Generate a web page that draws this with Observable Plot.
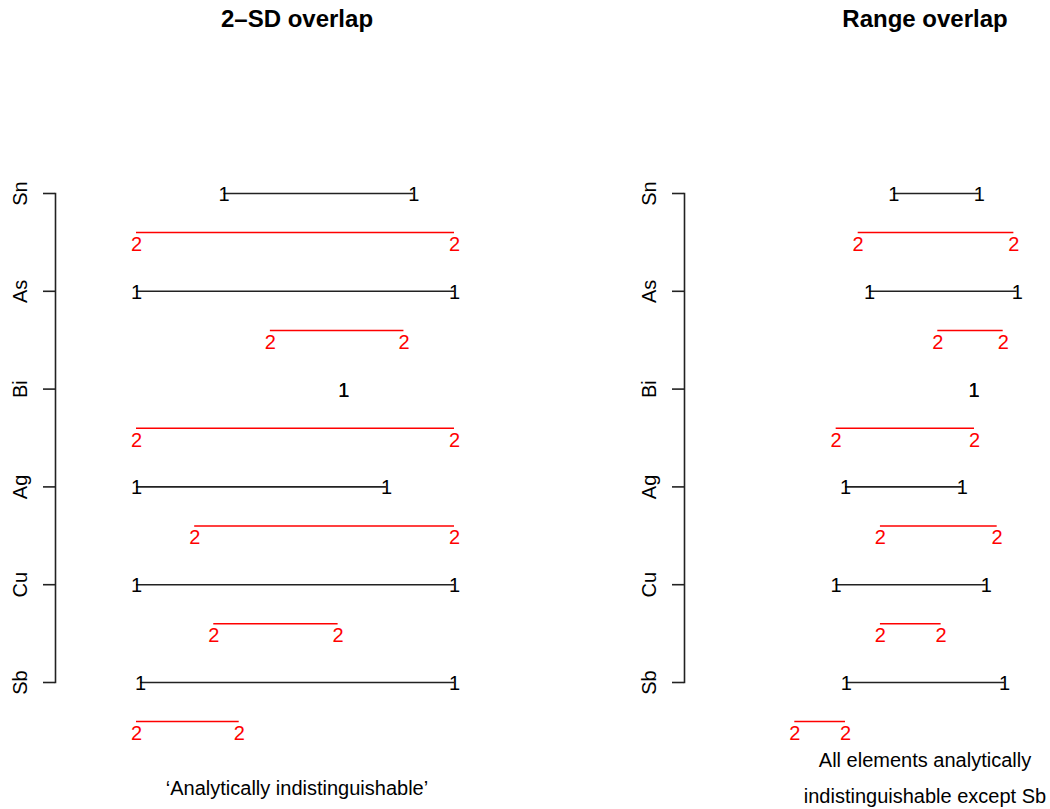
<!DOCTYPE html>
<html><head><meta charset="utf-8">
<script src="https://cdn.jsdelivr.net/npm/d3@7"></script>
<script src="https://cdn.jsdelivr.net/npm/@observablehq/plot@0.6"></script>
<style>
html,body{margin:0;padding:0;background:#fff;}
#chart{position:relative;width:1050px;height:809px;font-family:"Liberation Sans",Arial,Helvetica,sans-serif;color:#000;overflow:hidden;}
.panel{position:absolute;top:0;width:525px;height:809px;}
.panel svg{display:block;}
.lbl{position:absolute;white-space:nowrap;transform:translateX(-50%);line-height:1;}
.title{font-size:24px;font-weight:bold;}
.cap{font-size:20px;}
</style></head><body>
<div id="chart"></div>
<script>
// Elements, top to bottom
const elements = ["Sn", "As", "Bi", "Ag", "Cu", "Sb"];

// Panel 1: 2-SD overlap (values normalised per element, 0..100)
const sdLow1  = [27.5, 0,   65.2, 0,    0,   1.3];
const sdHigh1 = [87.2, 100, 65.2, 78.6, 100, 100];
const sdLow2  = [0,    42.1, 0,   18.3, 24.3, 0];
const sdHigh2 = [100,  84.1, 100, 100,  63.4, 32.3];

// Panel 2: Range overlap (relative units, 0..100)
const rgLow1  = [44.5, 33.6, 80.6, 22.8, 18.6, 23.2];
const rgHigh1 = [83.0, 100,  80.6, 75.3, 86.1, 94.3];
const rgLow2  = [28.5, 64.3, 18.6, 38.5, 38.5, 0];
const rgHigh2 = [98.5, 93.7, 80.8, 91.0, 65.8, 22.8];

const titles = ["2\u2013SD overlap", "Range overlap"];
const captions = [["\u2018Analytically indistinguishable\u2019"], ["All elements analytically", "indistinguishable except Sb"]];

const FONT = '"Liberation Sans", Arial, Helvetica, sans-serif';

function panel({low1, high1, low2, high2, marginLeft, xRange}) {
  const n = elements.length;
  const rows = elements.map((el, i) => ({el, pos: n - i, lo1: low1[i], hi1: high1[i], lo2: low2[i], hi2: high2[i]}));
  const ends1 = rows.flatMap(r => [{x: r.lo1, y: r.pos}, {x: r.hi1, y: r.pos}]);
  const ends2 = rows.flatMap(r => [{x: r.lo2, y: r.pos - 0.4}, {x: r.hi2, y: r.pos - 0.4}]);
  return Plot.plot({
    width: 525, height: 809,
    marginLeft, marginRight: 0, marginTop: 193, marginBottom: 127,
    style: {fontFamily: FONT, fontSize: "20px", background: "white", overflow: "visible", color: "black"},
    x: {domain: [0, 100], range: xRange, axis: null},
    y: {domain: [1, n]},
    marks: [
      Plot.frame({anchor: "left", stroke: "#222", strokeWidth: 1.6}),
      Plot.axisY(rows.map(r => r.pos), {
        tickSize: 12, tickRotate: -90, tickPadding: 17, strokeWidth: 1.6, stroke: "#222",
        tickFormat: d => elements[n - d], fill: "#000"
      }),
      Plot.ruleY(rows, {y: "pos", x1: "lo1", x2: "hi1", stroke: "#222", strokeWidth: 1.6}),
      Plot.ruleY(rows, {y: r => r.pos - 0.4, x1: "lo2", x2: "hi2", stroke: "red", strokeWidth: 1.5}),
      Plot.text(ends1, {x: "x", y: "y", text: () => "1", fill: "#000", dy: 1}),
      Plot.text(ends2, {x: "x", y: "y", text: () => "2", fill: "red", dy: 12})
    ]
  });
}

const chart = document.getElementById("chart");
const specs = [
  {low1: sdLow1, high1: sdHigh1, low2: sdLow2, high2: sdHigh2, marginLeft: 55, xRange: [136, 454], center: 297,
   capTops: [778]},
  {low1: rgLow1, high1: rgHigh1, low2: rgLow2, high2: rgHigh2, marginLeft: 159, xRange: [269.3, 491.7], center: 400,
   capTops: [749.8, 786.4]}
];

specs.forEach((s, k) => {
  const div = document.createElement("div");
  div.className = "panel";
  div.style.left = (k * 525) + "px";
  div.appendChild(panel(s));
  const t = document.createElement("div");
  t.className = "lbl title";
  t.style.left = s.center + "px";
  t.style.top = "7.2px";
  t.textContent = titles[k];
  div.appendChild(t);
  captions[k].forEach((line, j) => {
    const c = document.createElement("div");
    c.className = "lbl cap";
    c.style.left = s.center + "px";
    c.style.top = s.capTops[j] + "px";
    c.textContent = line;
    div.appendChild(c);
  });
  chart.appendChild(div);
});
</script>
</body></html>
